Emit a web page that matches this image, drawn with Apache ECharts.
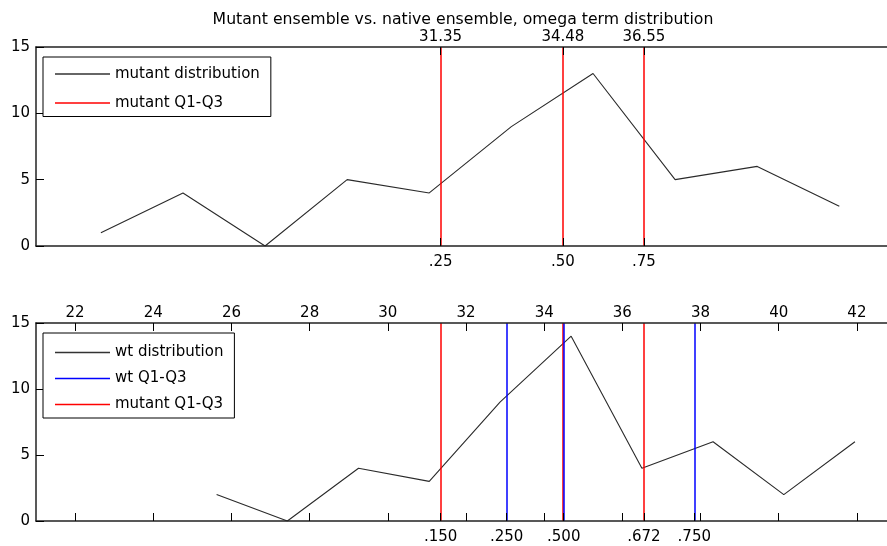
<!DOCTYPE html>
<html>
<head>
<meta charset="utf-8">
<script src="https://cdn.jsdelivr.net/npm/echarts@6/dist/echarts.min.js"></script>
<style>
html,body{margin:0;padding:0;background:#fff;}
#c{width:887px;height:546px;}
</style>
</head>
<body>
<div id="c"></div>
<script>
// ---- data ----
const xMin = 21, xMax = 42.77;
const mutantBins = [22.66, 24.76, 26.86, 28.96, 31.06, 33.16, 35.25, 37.35, 39.45, 41.55];
const mutantCounts = [1, 4, 0, 5, 4, 9, 13, 5, 6, 3];
const wtBins = [25.62, 27.43, 29.25, 31.06, 32.87, 34.69, 36.50, 38.32, 40.13, 41.95];
const wtCounts = [2, 0, 4, 3, 9, 14, 4, 6, 2, 6];
const mutantQ = [31.35, 34.48, 36.55];
const wtQ = [33.04, 34.51, 37.84];
const topQLabels = ['.25', '.50', '.75'];
const topValLabels = ['31.35', '34.48', '36.55'];
const bottomQPos = [31.35, 33.04, 34.5, 36.55, 37.84];
const bottomQLabels = ['.150', '.250', '.500', '.672', '.750'];
const numTicks = [22, 24, 26, 28, 30, 32, 34, 36, 38, 40, 42];

const FONT = 'DejaVu Sans';
const FS = 15;
const axisLineStyle = {color: '#222', width: 1.5};
const labelStyle = {fontFamily: FONT, fontSize: FS, color: '#000'};

function pair(xs, ys) { return xs.map((x, i) => [x, ys[i]]); }
function lookup(pos, labels) { return v => { const i = pos.indexOf(v); return i >= 0 ? labels[i] : ''; }; }

const gridTop = {left: 36, top: 47, right: 0, height: 199, outerBoundsMode: 'none'};
const gridBot = {left: 36, top: 323, right: 0, height: 198, outerBoundsMode: 'none'};

function xAx(grid, position, ticks, labelVals, fmt, margin) {
  return {
    type: 'value', gridIndex: grid, position: position, min: xMin, max: xMax, z: 5,
    axisLine: {show: true, lineStyle: axisLineStyle, onZero: false},
    axisTick: {show: ticks.length > 0, inside: true, length: 8, customValues: ticks, lineStyle: {color: '#000', width: 1}},
    axisLabel: {show: labelVals.length > 0, customValues: labelVals, formatter: fmt, margin: margin,
      hideOverlap: false, showMinLabel: true, showMaxLabel: true, ...labelStyle},
    splitLine: {show: false}
  };
}
function yAx(grid) {
  return {
    type: 'value', gridIndex: grid, min: 0, max: 15, interval: 5, z: 5,
    axisLine: {show: true, lineStyle: axisLineStyle},
    axisTick: {show: true, inside: true, length: 8, lineStyle: {color: '#000', width: 1}},
    axisLabel: {margin: 6, ...labelStyle},
    splitLine: {show: false}
  };
}

const bottomTicks = numTicks.concat(bottomQPos).sort((a, b) => a - b);

const vline = (name, xAxisIndex, yAxisIndex, vals, color) => ({
  name: name, type: 'line', xAxisIndex: xAxisIndex, yAxisIndex: yAxisIndex, data: [],
  symbol: 'none', silent: true, color: color, z: 3,
  lineStyle: {color: color, width: 1.5},
  markLine: {symbol: 'none', silent: true, animation: false, label: {show: false},
    lineStyle: {color: color, width: 1.5, type: 'solid', opacity: 1},
    data: vals.map(v => ({xAxis: v}))}
});

const legendCommon = {
  orient: 'vertical', left: 43, itemWidth: 55, itemHeight: 1.5, icon: 'rect',
  borderColor: '#000', borderWidth: 1, borderRadius: 0, backgroundColor: '#fff',
  textStyle: {fontFamily: FONT, fontSize: FS, color: '#000'}, z: 10,
  selectedMode: false
};

const option = {
  animation: false,
  backgroundColor: '#fff',
  title: {text: 'Mutant ensemble vs. native ensemble, omega term distribution',
    left: 458, top: 7, textAlign: 'center',
    textStyle: {fontFamily: FONT, fontSize: 15.7, fontWeight: 'normal', color: '#000'}},
  legend: [
    {...legendCommon, top: 57, itemGap: 14, padding: [9.5, 11, 6, 12],
      data: ['mutant distribution', 'mutant Q1-Q3']},
    {...legendCommon, top: 333, itemGap: 11, padding: [12, 11, 6, 12],
      data: ['wt distribution', 'wt Q1-Q3', 'mutant Q1-Q3']}
  ],
  grid: [gridTop, gridBot],
  xAxis: [
    xAx(0, 'bottom', mutantQ, mutantQ, lookup(mutantQ, topQLabels), 9),
    xAx(0, 'top', mutantQ, mutantQ, lookup(mutantQ, topValLabels), 2),
    xAx(1, 'bottom', bottomTicks, bottomQPos, lookup(bottomQPos, bottomQLabels), 9),
    xAx(1, 'top', numTicks, numTicks, v => String(v), 2.5)
  ],
  yAxis: [yAx(0), yAx(1)],
  series: [
    {name: 'mutant distribution', type: 'line', xAxisIndex: 0, yAxisIndex: 0,
      data: pair(mutantBins, mutantCounts), symbol: 'none', color: '#333',
      lineStyle: {color: '#2a2a2a', width: 1.1}, z: 2},
    vline('mutant Q1-Q3', 0, 0, mutantQ, '#ff0000'),
    {name: 'wt distribution', type: 'line', xAxisIndex: 2, yAxisIndex: 1,
      data: pair(wtBins, wtCounts), symbol: 'none', color: '#333',
      lineStyle: {color: '#2a2a2a', width: 1.1}, z: 2},
    vline('mutant Q1-Q3', 2, 1, mutantQ, '#ff0000'),
    vline('wt Q1-Q3', 2, 1, wtQ, '#0000ff')
  ]
};

const chart = echarts.init(document.getElementById('c'), null, {renderer: 'canvas'});
chart.setOption(option);
</script>
</body>
</html>
